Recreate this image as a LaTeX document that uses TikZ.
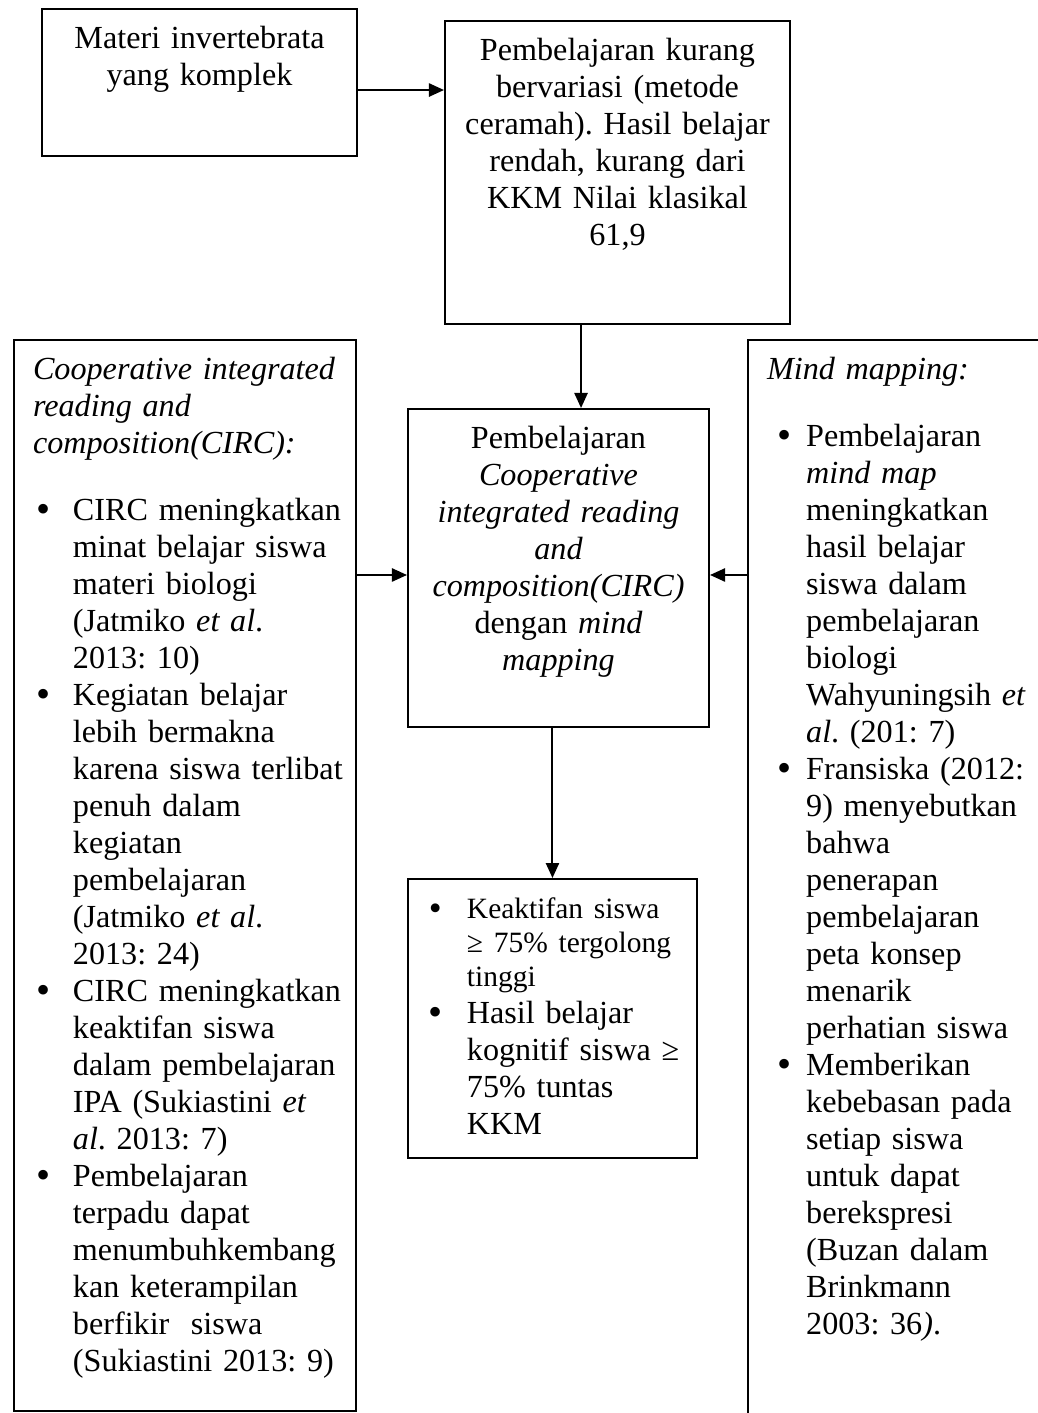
\documentclass[tikz,border=0pt]{standalone}
\usepackage{fontspec}
\setmainfont{Liberation Serif}
\frenchspacing
\usetikzlibrary{arrows.meta}
\tikzset{
x=0.3731pt, y=-0.3731pt, % one unit is one pixel of the page, y runs down
frame/.style={draw, line width=0.75pt, anchor=north west, inner xsep=7.1pt,
  inner ysep=0pt, text height=14.9pt, font=\fontsize{12}{13.8}\selectfont}, % every box
link/.style={line width=0.75pt, -{Triangle[length=5.6pt, width=4.9pt]}}, % every arrow
}
\def\bul#1{\noindent\llap{\makebox[#1][l]{\raisebox{-0.6pt}{\scalebox{1.25}{\textbullet}}}}}
\def\wide{\rightskip=-8pt plus 1fil} % lets a line run a little past the margin

\begin{document}
\begin{tikzpicture}
    \useasboundingbox (0,0) rectangle (1038,1413);
    \clip (0,0) rectangle (1038,1413);

    % top row
    \node[frame, inner xsep=3pt, text width=111.5pt, text depth=39.95pt, align=center] (materi) at (41,8)
        {Materi invertebrata\\ yang komplek};
    \node[frame, inner xsep=3pt, text width=122.7pt, text depth=98.15pt, align=center] (ceramah) at (444,20)
        {Pembelajaran kurang\\ bervariasi (metode\\ ceramah). Hasil belajar\\
        rendah, kurang dari\\ KKM Nilai klasikal\\ 61,9};

    % middle column
    \node[frame, inner xsep=3pt, text width=106.3pt, text depth=103.75pt, align=center] (circ) at (407,408)
        {Pembelajaran\\ \textit{Cooperative}\\ \textit{integrated reading}\\ \textit{and}\\
        \textit{composition(CIRC)}\\ dengan \textit{mind}\\ \textit{mapping}};
    \node[frame, text width=93.6pt, text depth=89.2pt, align=left] (hasil) at (407,878)
        {\leftskip=14.9pt \wide
        {\fontsize{11}{12.65}\selectfont\bul{14.2pt}Keaktifan siswa\\ ≥ 75\% tergolong\\ tinggi\par}
        \bul{14.2pt}Hasil belajar\\ kognitif siswa ≥\\ 75\% tuntas\\ KKM\par};

    % side boxes
    \node[frame, text width=113.4pt, text depth=384.7pt, align=left] (kiri) at (13,339)
        {\wide{\itshape Cooperative integrated\\ reading and\\ composition(CIRC):\par}\vspace{11.2pt}
        \leftskip=14.9pt
        \bul{13.6pt}CIRC meningkatkan\\ minat belajar siswa\\ materi biologi\\
        (Jatmiko \textit{et al}.\\ 2013: 10)\par
        \bul{13.6pt}Kegiatan belajar\\ lebih bermakna\\ karena siswa terlibat\\ penuh dalam\\
        kegiatan\\ pembelajaran\\ (Jatmiko \textit{et al}.\\ 2013: 24)\par
        \bul{13.6pt}CIRC meningkatkan\\ keaktifan siswa\\ dalam pembelajaran\\
        IPA (Sukiastini \textit{et}\\ \textit{al}. 2013: 7)\par
        \bul{13.6pt}Pembelajaran\\ terpadu dapat\\ menumbuhkembang\\ kan keterampilan\\
        berfikir\ \ siswa\\ (Sukiastini 2013: 9)\par};
    \node[frame, text width=108.9pt, text depth=395.1pt, align=left] (kanan) at (747,339)
        {\wide{\itshape Mind mapping:\par}\vspace{11.2pt}
        \leftskip=14.6pt
        \bul{10.8pt}Pembelajaran\\ \textit{mind map}\\ meningkatkan\\ hasil belajar\\ siswa dalam\\
        pembelajaran\\ biologi\\ Wahyuningsih \textit{et}\\ \textit{al}. (201: 7)\par
        \bul{10.8pt}Fransiska (2012:\\ 9) menyebutkan\\ bahwa\\ penerapan\\ pembelajaran\\
        peta konsep\\ menarik\\ perhatian siswa\par
        \bul{10.8pt}Memberikan\\ kebebasan pada\\ setiap siswa\\ untuk dapat\\ berekspresi\\
        (Buzan dalam\\ Brinkmann\\ 2003: 36\textit{)}.\par};

    % arrows
    \coordinate (a1) at ([yshift=-2.8pt]materi.east);
    \draw[link] (a1) -- (a1 -| ceramah.west);
    \coordinate (b1) at ([xshift=-13.6pt]ceramah.south);
    \draw[link] (b1) -- (b1 |- circ.north);
    \coordinate (c1) at ([yshift=-2.6pt]circ.west);
    \draw[link] (c1 -| kiri.east) -- (c1);
    \coordinate (c2) at ([yshift=-2.6pt]circ.east);
    \draw[link] (c2 -| kanan.west) -- (c2);
    \draw[link] (hasil.north |- circ.south) -- (hasil.north);

\end{tikzpicture}
\end{document}
